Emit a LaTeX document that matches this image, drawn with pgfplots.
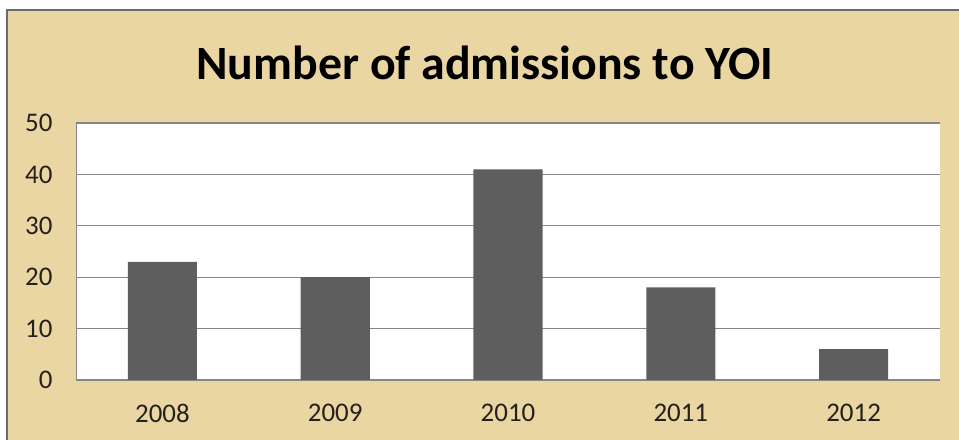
\documentclass[border=0pt]{standalone}
\usepackage{fontspec}
\setmainfont{Carlito}
\usepackage{pgfplots}
\pgfplotsset{compat=1.18}
\usetikzlibrary{backgrounds}

\definecolor{parch}{RGB}{234,214,163}
\definecolor{barcol}{RGB}{94,94,94}
\definecolor{gridcol}{RGB}{134,134,134}
\definecolor{labcol}{RGB}{38,32,28}

\begin{document}
\begin{tikzpicture}
% plot area is 864 x 257 bp, its lower left corner at (76,60) of a 959 x 440 page
\begin{axis}[
    name=ax,
    scale only axis,
    width=864bp, height=257bp,
    axis background/.style={fill=white},
    clip=false,
    ybar,
    bar width=0.4,
    xmin=-0.5, xmax=4.5,
    ymin=0, ymax=50,
    xtick={0,1,2,3,4},
    xticklabels={2008,2009,2010,2011,2012},
    ytick={0,10,20,30,40,50},
    axis x line*=bottom,
    axis y line*=left,
    axis line style={gridcol, line width=1bp},
    ymajorgrids=true,
    grid style={gridcol, line width=1.3bp},
    major tick length=0pt,
    tick label style={font=\fontsize{27}{30}\selectfont, text=labcol},
    /pgf/number format/assume math mode=true,
    xticklabel style={yshift=-21bp},
    yticklabel style={xshift=-20bp},
]
\addplot[fill=barcol, draw=none] coordinates {(0,23) (1,20) (2,41) (3,18) (4,6)};
\coordinate (pg0) at (axis description cs:-0.087963,-0.233463);
\coordinate (pg1) at (axis description cs:1.021991,1.478599);
\coordinate (fr0) at (axis description cs:-0.079861,-0.245);
\coordinate (fr1) at (axis description cs:1.03,1.439689);
\coordinate (tt) at (axis description cs:0.473380,1.170);
\end{axis}
\path[use as bounding box] (pg0) rectangle (pg1);
\node[anchor=base, font=\fontsize{48}{52}\selectfont\bfseries] at (tt) {Number of admissions to YOI};
\begin{scope}[on background layer]
\fill[white] (pg0) rectangle (pg1);
\fill[parch] (fr0) rectangle (fr1);
\draw[gridcol!80!black, line width=2bp] (fr0) |- (fr1);
\end{scope}
\end{tikzpicture}
\end{document}
